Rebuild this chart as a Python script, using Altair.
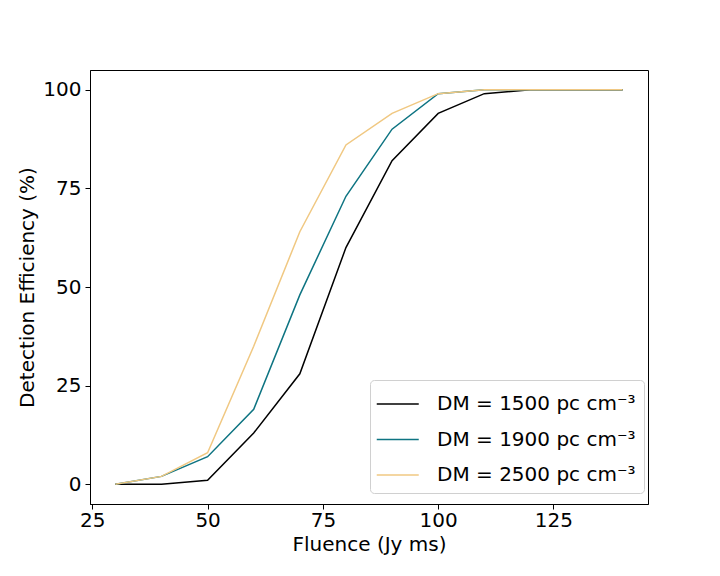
import altair as alt
import pandas as pd

fluence = [30, 40, 50, 60, 70, 80, 90, 100, 110, 120, 130, 140]
dm1500 = [0, 0, 1, 13, 28, 60, 82, 94, 99, 100, 100, 100]
dm1900 = [0, 2, 7, 19, 48, 73, 90, 99, 100, 100, 100, 100]
dm2500 = [0, 2, 8, 35, 64, 86, 94, 99, 100, 100, 100, 100]
labels = ["DM = 1500 pc cm⁻³", "DM = 1900 pc cm⁻³", "DM = 2500 pc cm⁻³"]
colors = ["#000000", "#0e7482", "#f0c882"]
x_ticks = [25, 50, 75, 100, 125]
y_ticks = [0, 25, 50, 75, 100]

rows = []
for lab, vals in zip(labels, [dm1500, dm1900, dm2500]):
    for f, v in zip(fluence, vals):
        rows.append({"fluence": f, "eff": v, "series": lab})
df = pd.DataFrame(rows)

FONT = "DejaVu Sans"
FS = 20

chart = alt.Chart(df).mark_line(strokeWidth=1.5).encode(
    x=alt.X("fluence:Q",
            scale=alt.Scale(domain=[24.5, 145.5], nice=False, zero=False),
            axis=alt.Axis(values=x_ticks, title="Fluence (Jy ms)", labelPadding=1,
                          titleY=46, titleBaseline="alphabetic")),
    y=alt.Y("eff:Q",
            scale=alt.Scale(domain=[-5, 105], nice=False),
            axis=alt.Axis(values=y_ticks, title="Detection Efficiency (%)", labelPadding=4,
                          titleX=-57, titleBaseline="alphabetic", titleAngle=270)),
    color=alt.Color("series:N",
                    scale=alt.Scale(domain=labels, range=colors),
                    legend=alt.Legend(title=None, orient="none", legendX=280, legendY=310,
                                      symbolType="M-1.15,0H1.65", symbolSize=900, symbolStrokeWidth=1.5,
                                      labelFontSize=FS, labelFont=FONT, labelColor="#000",
                                      labelLimit=0, labelOffset=27, rowPadding=9.5, padding=8,
                                      strokeColor="#d0d0d0", cornerRadius=4, fillColor="#ffffff")),
).properties(
    width=558, height=434,
    autosize=alt.AutoSizeParams(type="none"),
    padding={"left": 82, "top": 62, "right": 50, "bottom": 60},
).configure_view(
    stroke="#000000", strokeWidth=1
).configure_axis(
    labelFont=FONT, labelFontSize=FS, labelColor="#000",
    titleFont=FONT, titleFontSize=FS, titleFontWeight="normal", titleColor="#000",
    tickColor="#000", tickSize=5, domainColor="#000", grid=False,
)

chart.save("out.html", embed_options={"renderer": "svg", "actions": False})
